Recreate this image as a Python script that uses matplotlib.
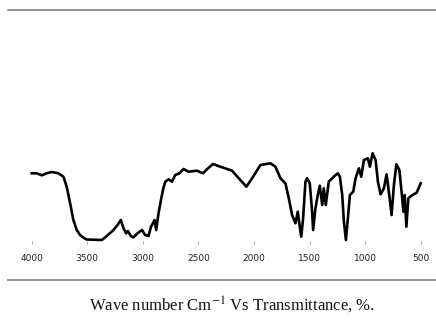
import matplotlib
matplotlib.use("Agg")
import matplotlib.pyplot as plt
from matplotlib.lines import Line2D

# FTIR spectrum (wave number in cm-1, transmittance %)
wavenumber = [
    4000, 3955, 3910, 3865, 3820, 3760, 3715, 3685, 3655, 3625, 3595, 3565,
    3530, 3504, 3369, 3324, 3264, 3228, 3198, 3174, 3150, 3135, 3108, 3084,
    3048, 3008, 2979, 2949, 2927, 2909, 2895, 2880, 2859, 2837, 2815, 2798,
    2768, 2738, 2708, 2670, 2634, 2589, 2513, 2459, 2423, 2369, 2303, 2197,
    2123, 2068, 2017, 1942, 1852, 1807, 1762, 1717, 1687, 1657, 1627, 1606,
    1590, 1575, 1558, 1537, 1522, 1498, 1477, 1468, 1447, 1426, 1408, 1386,
    1372, 1354, 1327, 1296, 1266, 1245, 1227, 1206, 1191, 1173, 1155, 1137,
    1107, 1086, 1056, 1035, 1011, 975, 957, 933, 906, 885, 861, 831, 807,
    783, 762, 741, 719, 692, 669, 656, 644, 629, 611, 575, 536, 500,
]
transmittance = [
    76.7, 76.7, 74.7, 76.7, 78.0, 76.7, 73.3, 63.3, 47.0, 30.0, 20.0, 15.0,
    12.0, 10.5, 10.0, 14.0, 20.0, 25.0, 30.0, 21.7, 16.7, 19.0, 14.0, 12.7,
    16.7, 20.0, 15.0, 14.0, 23.3, 26.7, 30.0, 20.0, 36.7, 50.0, 62.0, 68.3,
    70.7, 68.3, 75.0, 76.7, 81.0, 78.3, 79.3, 76.7, 80.7, 86.0, 83.3, 79.3,
    70.0, 63.3, 71.7, 85.0, 86.7, 83.3, 71.7, 66.7, 51.7, 35.0, 26.7, 38.3,
    25.0, 13.3, 31.7, 68.3, 71.7, 66.7, 38.3, 20.0, 41.7, 55.0, 64.3, 45.0,
    61.7, 45.0, 68.3, 71.7, 75.0, 76.7, 73.3, 55.0, 28.3, 10.0, 31.7, 55.0,
    58.3, 71.7, 81.7, 73.3, 90.0, 91.7, 83.3, 96.7, 90.0, 68.3, 55.7, 61.7,
    75.7, 55.0, 35.0, 65.0, 85.7, 80.0, 55.0, 38.3, 55.0, 23.3, 51.7, 55.0,
    57.3, 66.7,
]
xticks = [4000, 3500, 3000, 2500, 2000, 1500, 1000, 500]
caption = "Wave number Cm$^{-1}$ Vs Transmittance, %."

W, H = 436, 322
fig = plt.figure(figsize=(W / 100, H / 100), dpi=100)

# axes placed in pixel terms: x 31.7..420.7, y 150..241 (from top)
ax = fig.add_axes([31.7 / W, (H - 241) / H, (420.7 - 31.7) / W, 91 / H])
ax.plot(wavenumber, transmittance, color="black", lw=1.9, clip_on=False,
        solid_joinstyle="round")
ax.set_xlim(4000, 500)
ax.set_ylim(9, 100)
ax.set_xticks(xticks)
ax.set_xticklabels([str(t) for t in xticks])
ax.set_yticks([])
for s in ax.spines.values():
    s.set_visible(False)
ax.tick_params(axis="x", length=2.5, width=0.8, color="#aaaaaa", pad=7,
               labelsize=6.5, labelcolor="#222222")

# gray separator rules above and below the figure
fig.add_artist(Line2D([8 / W, 435.5 / W], [(H - 10.3) / H] * 2,
                      color="#808080", lw=1.2))
fig.add_artist(Line2D([8 / W, 436 / W], [(H - 280) / H] * 2,
                      color="#808080", lw=1.2))

plt.rcParams["mathtext.fontset"] = "stix"
fig.text(232 / W, (H - 305) / H, caption, ha="center", va="center",
         family="Liberation Serif", fontsize=12, color="#111111")

fig.savefig("out.png", dpi=100)
